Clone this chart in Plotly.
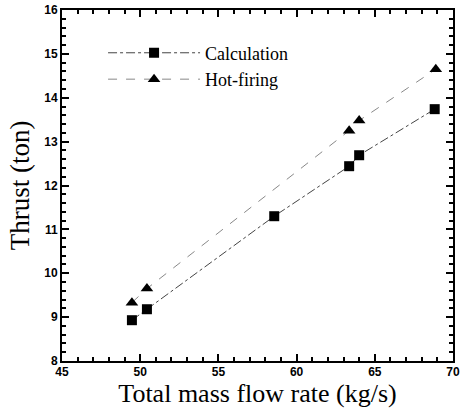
import plotly.graph_objects as go

calc_x = [49.47, 50.43, 58.57, 63.36, 64.0, 68.83]
calc_y = [8.93, 9.18, 11.30, 12.44, 12.69, 13.74]
hot_x = [49.47, 50.43, 63.36, 64.0, 68.9]
hot_y = [9.33, 9.65, 13.25, 13.48, 14.65]

fig = go.Figure()
fig.add_trace(go.Scatter(x=calc_x, y=calc_y, mode="lines+markers", name="Calculation",
                         line=dict(color="#444444", width=1, dash="dashdot"),
                         marker=dict(symbol="square", size=10, color="black")))
fig.add_trace(go.Scatter(x=hot_x, y=hot_y, mode="lines+markers", name="Hot-firing",
                         line=dict(color="#888888", width=1, dash="dash"),
                         marker=dict(symbol="triangle-up", size=11, color="black")))

axis_common = dict(showgrid=False, zeroline=False, ticks="inside", mirror="allticks",
                   showline=True, linecolor="black", linewidth=2, tickcolor="black",
                   ticklen=7, tickwidth=1.5, automargin=False,
                   tickfont=dict(family="Liberation Sans, Arial", size=12, color="black",
                                 weight="bold"))

fig.update_layout(
    width=465, height=408,
    margin=dict(l=62, r=12, t=10, b=47),
    plot_bgcolor="white", paper_bgcolor="white",
    xaxis=dict(range=[45, 70], dtick=5, ticklabelstandoff=-1,
               minor=dict(dtick=1, ticks="inside", ticklen=4, tickcolor="black"),
               title=dict(text="Total mass flow rate (kg/s)", standoff=0,
                          font=dict(family="Liberation Serif, Times New Roman", size=26, color="black")),
               **axis_common),
    yaxis=dict(range=[8, 16], dtick=1,
               minor=dict(dtick=0.2, ticks="inside", ticklen=4, tickcolor="black"),
               title=dict(text="Thrust (ton)", standoff=7,
                          font=dict(family="Liberation Serif, Times New Roman", size=27, color="black")),
               **axis_common),
    legend=dict(x=0.105, y=0.93, xanchor="left", yanchor="top", bgcolor="rgba(0,0,0,0)",
                itemwidth=92, tracegroupgap=0,
                font=dict(family="Liberation Serif, Times New Roman", size=18, color="black")),
)

fig.write_html("out.html", post_script="document.body.style.margin='0';",
               config={"displayModeBar": False})
